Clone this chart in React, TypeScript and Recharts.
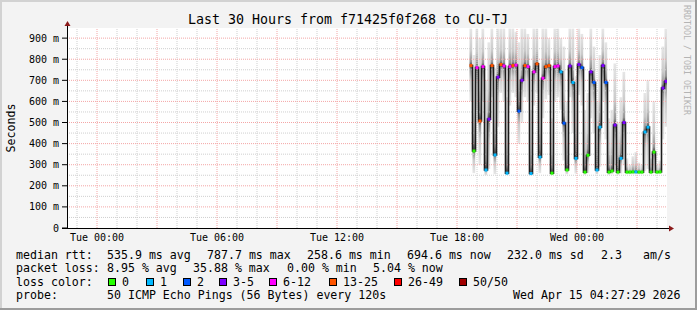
import { ComposedChart, Bar, Line, XAxis, YAxis, ReferenceLine } from "recharts";

// consolidated rows, one every 9 minutes, first one at Tue 18:42
const startHour = 18.7;
const stepHours = 0.15;

const medianMs = [
	770, 365, 760, 507, 765, 275, 516, 770, 346, 715, 775, 768, 260, 765, 770, 772,
	554, 700, 770, 765, 258, 740, 778, 336, 710, 765, 770, 260, 765, 768, 740, 497,
	275, 768, 690, 330, 775, 760, 265, 345, 740, 690, 275, 478, 770, 690, 265, 270,
	488, 265, 330, 500, 265, 265, 266, 266, 265, 265, 455, 478, 265, 360, 265, 266,
	663, 695,
];
const lossCount = [
	15, 0, 8, 15, 8, 1, 4, 15, 1, 4, 14, 9, 1, 7, 15, 10,
	2, 4, 14, 8, 1, 8, 16, 1, 7, 14, 13, 0, 9, 8, 1, 2,
	0, 4, 1, 1, 4, 2, 0, 0, 4, 2, 1, 1, 3, 2, 0, 0,
	4, 0, 1, 4, 0, 0, 0, 1, 0, 0, 1, 1, 0, 0, 0, 0,
	4, 4,
];
const smokeLo = [
	600, 260, 560, 300, 600, 250, 280, 620, 255, 480, 640, 600, 250, 580, 640, 620,
	400, 500, 620, 600, 250, 580, 640, 260, 520, 610, 630, 250, 600, 620, 560, 320,
	255, 620, 450, 258, 630, 580, 252, 260, 520, 450, 255, 290, 600, 420, 252, 255,
	300, 252, 258, 300, 255, 255, 255, 255, 255, 255, 270, 280, 255, 262, 255, 256,
	420, 480,
];
const smokeHi = [
	945, 820, 945, 900, 945, 700, 880, 945, 760, 945, 945, 945, 620, 945, 945, 930,
	880, 945, 945, 920, 560, 945, 945, 700, 945, 945, 900, 520, 945, 945, 900, 860,
	600, 945, 945, 720, 945, 920, 560, 640, 945, 860, 600, 820, 945, 880, 520, 560,
	780, 500, 620, 740, 330, 300, 340, 360, 310, 300, 640, 700, 330, 600, 300, 320,
	860, 945,
];

const xTicks = [0, 6, 12, 18, 24];
const xTickLabels = ["Tue 00:00", "Tue 06:00", "Tue 12:00", "Tue 18:00", "Wed 00:00"];
const yTicks = [0, 100, 200, 300, 400, 500, 600, 700, 800, 900];
const majorHours = [0, 3, 6, 9, 12, 15, 18, 21, 24, 27];
const minorHours = [-1, 1, 2, 4, 5, 7, 8, 10, 11, 13, 14, 16, 17, 19, 20, 22, 23, 25, 26, 28];
const majorY = [100, 200, 300, 400, 500, 600, 700, 800, 900];
const minorY = [50, 150, 250, 350, 450, 550, 650, 750, 850];

const lossLegend = [
	{ label: "0", color: "#26ff00", x: 108 },
	{ label: "1", color: "#00b8ff", x: 146 },
	{ label: "2", color: "#0059ff", x: 183 },
	{ label: "3-5", color: "#7e00ff", x: 219 },
	{ label: "6-12", color: "#ff00ff", x: 269 },
	{ label: "13-25", color: "#ff5500", x: 329 },
	{ label: "26-49", color: "#ff0000", x: 394 },
	{ label: "50/50", color: "#a10000", x: 459 },
];

const lossColor = (n: number) => {
	if (n === 0) return lossLegend[0].color;
	if (n === 1) return lossLegend[1].color;
	if (n === 2) return lossLegend[2].color;
	if (n <= 5) return lossLegend[3].color;
	if (n <= 12) return lossLegend[4].color;
	if (n <= 25) return lossLegend[5].color;
	if (n <= 49) return lossLegend[6].color;
	return lossLegend[7].color;
};

const data = medianMs.map((m, i) => ({
	t: startHour + i * stepHours,
	median: m,
	loss: lossCount[i],
	smoke: [smokeLo[i], smokeHi[i]],
}));

const FONT = "'DejaVu Sans Mono', monospace";

// smoke: light at the extremes, dark only close to the median
const SmokeShape = (props: any) => {
	const { x, y, width, height, payload, index } = props;
	if (!height || height <= 0) return null;
	const [lo, hi] = payload.smoke;
	const f = Math.min(1, Math.max(0, (hi - payload.median) / (hi - lo)));
	const id = `smoke-${index}`;
	return (
		<g>
			<defs>
				<linearGradient id={id} x1="0" y1="0" x2="0" y2="1">
					<stop offset="0" stopColor="#e6e6e6" />
					<stop offset={f * 0.6} stopColor="#cacaca" />
					<stop offset={f * 0.9} stopColor="#959595" />
					<stop offset={f} stopColor="#404040" />
					<stop offset={f + (1 - f) * 0.1} stopColor="#959595" />
					<stop offset={f + (1 - f) * 0.4} stopColor="#cacaca" />
					<stop offset="1" stopColor="#e6e6e6" />
				</linearGradient>
			</defs>
			<rect x={x} y={y} width={width} height={height} fill={`url(#${id})`} />
		</g>
	);
};

const LossDot = (props: any) => {
	const { cx, cy, payload, index } = props;
	if (cx == null || cy == null) return <g key={`d-${index}`} />;
	return (
		<rect
			key={`d-${index}`}
			x={cx - 1.5}
			y={cy - 1.5}
			width={3}
			height={3}
			fill={lossColor(payload.loss)}
		/>
	);
};

const legendRows = [
	{
		y: 258.5,
		parts: [
			[16, "median rtt:"],
			[107, "535.9 ms avg"],
			[207, "787.7 ms max"],
			[307, "258.6 ms min"],
			[407, "694.6 ms now"],
			[507, "232.0 ms sd"],
			[601, "2.3"],
			[643, "am/s"],
		],
	},
	{
		y: 272,
		parts: [
			[16, "packet loss:"],
			[107, "8.95 % avg"],
			[193, "35.88 % max"],
			[287, "0.00 % min"],
			[373, "5.04 % now"],
		],
	},
	{
		y: 299,
		parts: [
			[16, "probe:"],
			[107, "50 ICMP Echo Pings (56 Bytes) every 120s"],
			[513, "Wed Apr 15 04:27:29 2026"],
		],
	},
];

export default function App() {
	return (
		<div style={{ position: "absolute", left: 0, top: 0, width: 697, height: 310 }}>
			{/* canvas + frame + plot background */}
			<svg width={697} height={310} style={{ position: "absolute", left: 0, top: 0 }}>
				<rect x={0} y={0} width={697} height={310} fill="#f3f3f3" />
				<rect x={0} y={0} width={697} height={2} fill="#d2d2d2" />
				<rect x={0} y={0} width={2} height={310} fill="#d2d2d2" />
				<rect x={695} y={0} width={2} height={310} fill="#9c9c9c" />
				<rect x={0} y={308} width={697} height={2} fill="#9c9c9c" />
				<rect x={67} y={28} width={600} height={200} fill="#ffffff" />
			</svg>

			<div style={{ position: "absolute", left: 0, top: 0 }}>
				<ComposedChart
					width={697}
					height={310}
					data={data}
					margin={{ top: 28, right: 30, bottom: 52, left: 10 }}
				>
					<XAxis
						dataKey="t"
						type="number"
						domain={[-1.5, 28.5]}
						ticks={xTicks}
						tickFormatter={(v) => xTickLabels[xTicks.indexOf(v)] ?? ""}
						axisLine={false}
						tickLine={false}
						tickSize={0}
						tickMargin={6}
						height={30}
						allowDataOverflow
						tick={{ fill: "#000", fontSize: 10, fontFamily: FONT }}
					/>
					<YAxis
						type="number"
						domain={[0, 948]}
						ticks={yTicks}
						tickFormatter={(v) => (v === 0 ? "0" : `${v} m`)}
						axisLine={false}
						tickLine={{ stroke: "#000" }}
						tickSize={5}
						tickMargin={3}
						width={57}
						allowDataOverflow
						tick={{ fill: "#000", fontSize: 10, fontFamily: FONT }}
					/>
					{minorHours.map((h) => (
						<ReferenceLine key={`mh${h}`} x={h} stroke="#cfcfcf" strokeDasharray="1 1" />
					))}
					{minorY.map((v) => (
						<ReferenceLine key={`my${v}`} y={v} stroke="#cfcfcf" strokeDasharray="1 1" />
					))}
					{majorHours.map((h) => (
						<ReferenceLine key={`Mh${h}`} x={h} stroke="#f4a6a6" strokeDasharray="1 1" />
					))}
					{majorY.map((v) => (
						<ReferenceLine key={`My${v}`} y={v} stroke="#f4a6a6" strokeDasharray="1 1" />
					))}
					<Bar
						dataKey="smoke"
						barSize={3}
						shape={SmokeShape}
						isAnimationActive={false}
					/>
					<Line
						dataKey="median"
						type="step"
						stroke="#1c1c1c"
						strokeWidth={1.6}
						dot={LossDot}
						activeDot={false}
						isAnimationActive={false}
					/>
				</ComposedChart>
			</div>

			{/* axes, title and rrdtool-style legend */}
			<svg
				width={697}
				height={310}
				style={{ position: "absolute", left: 0, top: 0, pointerEvents: "none" }}
				fontFamily={FONT}
			>
				<line x1={67.5} y1={228} x2={67.5} y2={24} stroke="#000" />
				<polygon points="64.5,26 70.5,26 67.5,21" fill="#8b1a1a" />
				<line x1={62} y1={228.5} x2={670} y2={228.5} stroke="#000" />
				<polygon points="669,225.5 669,231.5 674,228.5" fill="#8b1a1a" />

				<text x={348} y={24} textAnchor="middle" fontSize={13.3} fill="#000">
					Last 30 Hours from f71425f0f268 to CU-TJ
				</text>
				<text
					x={15}
					y={128}
					textAnchor="middle"
					fontSize={11.6}
					fill="#000"
					transform="rotate(-90 15 128)"
				>
					Seconds
				</text>
				<text
					x={684}
					y={5}
					fontSize={8.3}
					fill="#b4b4b4"
					transform="rotate(90 684 5)"
				>
					RRDTOOL / TOBI OETIKER
				</text>

				{legendRows.map((row) =>
					row.parts.map(([x, s]) => (
						<text
							key={`${row.y}-${x}`}
							x={x as number}
							y={row.y}
							fontSize={11.6}
							fill="#000"
						>
							{s}
						</text>
					)),
				)}
				<text x={16} y={285.5} fontSize={11.6} fill="#000">
					loss color:
				</text>
				{lossLegend.map((l) => (
					<g key={l.label}>
						<rect
							x={l.x + 0.5}
							y={278.5}
							width={7}
							height={7}
							fill={l.color}
							stroke="#000"
						/>
						<text x={l.x + 14} y={285.5} fontSize={11.6} fill="#000">
							{l.label}
						</text>
					</g>
				))}
			</svg>
		</div>
	);
}
